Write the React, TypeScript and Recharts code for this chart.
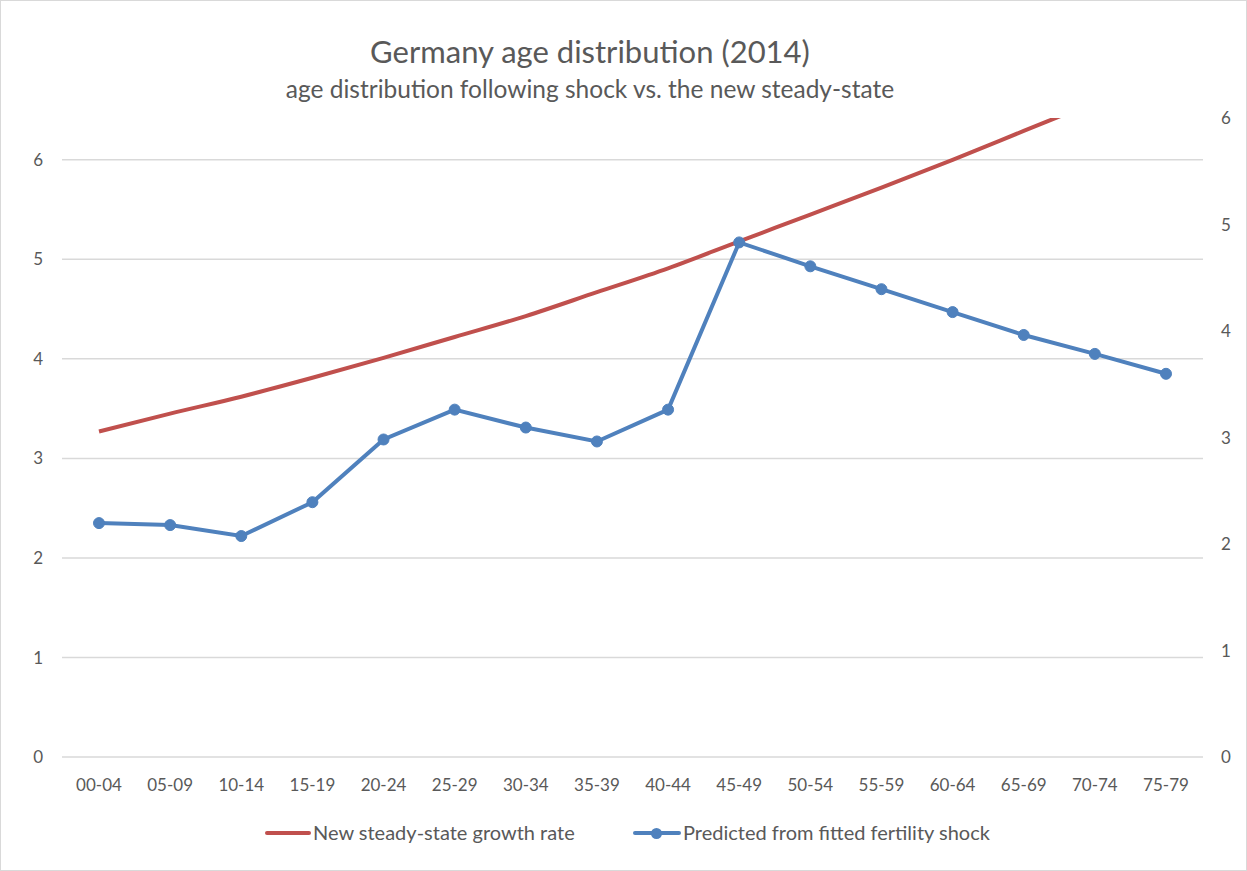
import React from "react";
import { LineChart, Line, XAxis, YAxis, ReferenceLine, Legend } from "recharts";

const categories = ["00-04","05-09","10-14","15-19","20-24","25-29","30-34","35-39","40-44","45-49","50-54","55-59","60-64","65-69","70-74","75-79"];
const steadyState = [3.27,3.45,3.62,3.81,4.01,4.22,4.43,4.67,4.91,5.18,5.45,5.72,6.0,6.29,6.58,6.88];
const predicted = [2.35,2.33,2.22,2.56,3.19,3.49,3.31,3.17,3.49,5.17,4.93,4.70,4.47,4.24,4.05,3.85];
const leftTicks = [0,1,2,3,4,5,6];
const rightTicks = [0,1,2,3,4,5,6];

const title = "Germany age distribution (2014)";
const subtitle = "age distribution following shock vs. the new steady-state";
const redName = "New steady-state growth rate";
const blueName = "Predicted from fitted fertility shock";

const RED = "#C0504D";
const BLUE = "#4F81BD";
const TEXT = "#595959";
const FONT = "Lato, 'Open Sans', sans-serif";

const data = categories.map((c, i) => ({ cat: c, red: steadyState[i], blue: predicted[i] }));

const LegendContent = () => (
  <div style={{ height: 30, fontFamily: FONT, fontSize: 20, color: TEXT, position: "relative" }}>
    <div style={{ position: "absolute", left: 264, top: 13, width: 46, height: 4, background: RED, borderRadius: 2 }} />
    <div style={{ position: "absolute", left: 312, top: 2, whiteSpace: "nowrap" }}>{redName}</div>
    <div style={{ position: "absolute", left: 632, top: 13, width: 48, height: 4, background: BLUE, borderRadius: 2 }} />
    <div style={{ position: "absolute", left: 650, top: 9.5, width: 11, height: 11, background: BLUE, borderRadius: 6 }} />
    <div style={{ position: "absolute", left: 682, top: 2, whiteSpace: "nowrap" }}>{blueName}</div>
  </div>
);

export default function App() {
  return (
    <div style={{ position: "absolute", left: 0, top: 0, width: 1245, height: 869, border: "1px solid #d9d9d9", background: "#fff" }}>
      <LineChart width={1245} height={869} data={data} margin={{ top: 117, right: 0, bottom: 22, left: 0 }}>
        <text x={589} y={62} textAnchor="middle" fontFamily={FONT} fontSize={31} fill={TEXT}>{title}</text>
        <text x={589} y={97} textAnchor="middle" fontFamily={FONT} fontSize={24.5} fill={TEXT}>{subtitle}</text>
        <XAxis dataKey="cat" axisLine={false} tickLine={false} tickSize={0} tickMargin={22} height={61}
          padding={{ left: 37, right: 37 }}
          tick={{ fill: TEXT, fontSize: 17, fontFamily: FONT }} interval={0} />
        <YAxis yAxisId="left" domain={[0, 6.42]} ticks={leftTicks} allowDataOverflow axisLine={false} tickLine={false}
          tickSize={0} tickMargin={19} width={61} tick={{ fill: TEXT, fontSize: 17, fontFamily: FONT }} />
        <YAxis yAxisId="right" orientation="right" domain={[0, 6]} ticks={rightTicks} allowDataOverflow axisLine={false} tickLine={false}
          tickSize={0} tickMargin={18} width={43} tick={{ fill: TEXT, fontSize: 17, fontFamily: FONT }} />
        {leftTicks.map((t) => (
          <ReferenceLine key={t} yAxisId="left" y={t} stroke="#d9d9d9" strokeWidth={1.5} />
        ))}
        <Line yAxisId="left" type="monotone" dataKey="red" name={redName} stroke={RED} strokeWidth={4} dot={false} isAnimationActive={false} />
        <Line yAxisId="left" type="linear" dataKey="blue" name={blueName} stroke={BLUE} strokeWidth={4}
          dot={{ r: 5.5, fill: BLUE, stroke: BLUE, strokeWidth: 1 }} isAnimationActive={false} />
        <Legend verticalAlign="bottom" height={30} content={<LegendContent />} />
      </LineChart>
    </div>
  );
}
